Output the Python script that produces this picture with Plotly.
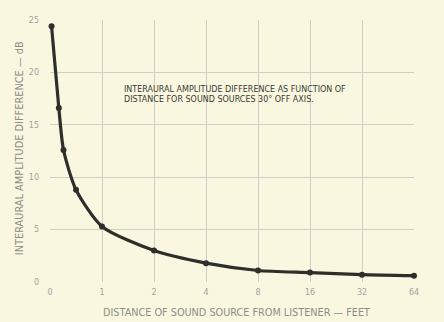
import math
import plotly.graph_objects as go

# Data
distance_ft = [0.03, 0.17, 0.26, 0.5, 1, 2, 4, 8, 16, 32, 64]
amplitude_db = [24.4, 16.6, 12.6, 8.8, 5.3, 3.0, 1.8, 1.1, 0.9, 0.7, 0.6]
x_tick_feet = [0, 1, 2, 4, 8, 16, 32, 64]
x_tick_labels = ["0", "1", "2", "4", "8", "16", "32", "64"]
y_ticks = [0, 5, 10, 15, 20, 25]


def scale(d):
    # linear from 0 to 1 ft, then one octave per division
    return d if d <= 1 else 1 + math.log2(d)


BG = "#f9f7e0"
INK = "#2e2e2a"
GRID = "#cfcfc6"
TXT = "#a4a49c"

fig = go.Figure()
fig.add_trace(go.Scatter(
    x=[scale(d) for d in distance_ft],
    y=amplitude_db,
    mode="lines+markers",
    line=dict(color=INK, width=3.2, shape="spline", smoothing=0.7),
    marker=dict(color=INK, size=6),
    cliponaxis=False,
    showlegend=False,
))

fig.update_layout(
    width=444, height=322,
    margin=dict(l=49.5, r=30, t=19.5, b=40),
    paper_bgcolor=BG, plot_bgcolor=BG,
    font=dict(family="DejaVu Sans", size=8, color=TXT),
    xaxis=dict(
        range=[0, 7],
        tickvals=[scale(v) for v in x_tick_feet],
        ticktext=x_tick_labels,
        showgrid=True, gridcolor=GRID, gridwidth=1,
        zeroline=False, showline=False,
        ticks="", ticklen=0, ticklabelstandoff=4,
        tickfont=dict(size=8, color=TXT),
    ),
    yaxis=dict(
        range=[0, 25],
        tickvals=y_ticks,
        showgrid=True, gridcolor=GRID, gridwidth=1,
        zeroline=False, showline=False,
        ticks="", ticklabelstandoff=10,
        tickfont=dict(size=8, color=TXT),
    ),
    annotations=[
        dict(
            text="INTERAURAL AMPLITUDE DIFFERENCE AS FUNCTION OF<br>DISTANCE FOR SOUND SOURCES 30° OFF AXIS.",
            xref="paper", yref="paper", x=(122 - 49.5) / 364.5, y=(282 - 83) / 262.5,
            xanchor="left", yanchor="top", align="left", showarrow=False,
            font=dict(family="DejaVu Sans", size=8, color="#3a3a34"),
        ),
        dict(
            text="DISTANCE OF SOUND SOURCE FROM LISTENER — FEET",
            xref="paper", yref="paper", x=(236 - 49.5) / 364.5, y=0,
            yshift=-30, xanchor="center", yanchor="middle", showarrow=False,
            font=dict(family="DejaVu Sans", size=9.7, color="#8e8e86"),
        ),
        dict(
            text="INTERAURAL AMPLITUDE DIFFERENCE — dB",
            xref="paper", yref="paper", x=0, y=(282 - 148) / 262.5,
            xshift=-31, xanchor="center", yanchor="middle", showarrow=False,
            textangle=-90,
            font=dict(family="DejaVu Sans", size=9.8, color="#8e8e86"),
        ),
    ],
)

fig.write_html("out.html")
